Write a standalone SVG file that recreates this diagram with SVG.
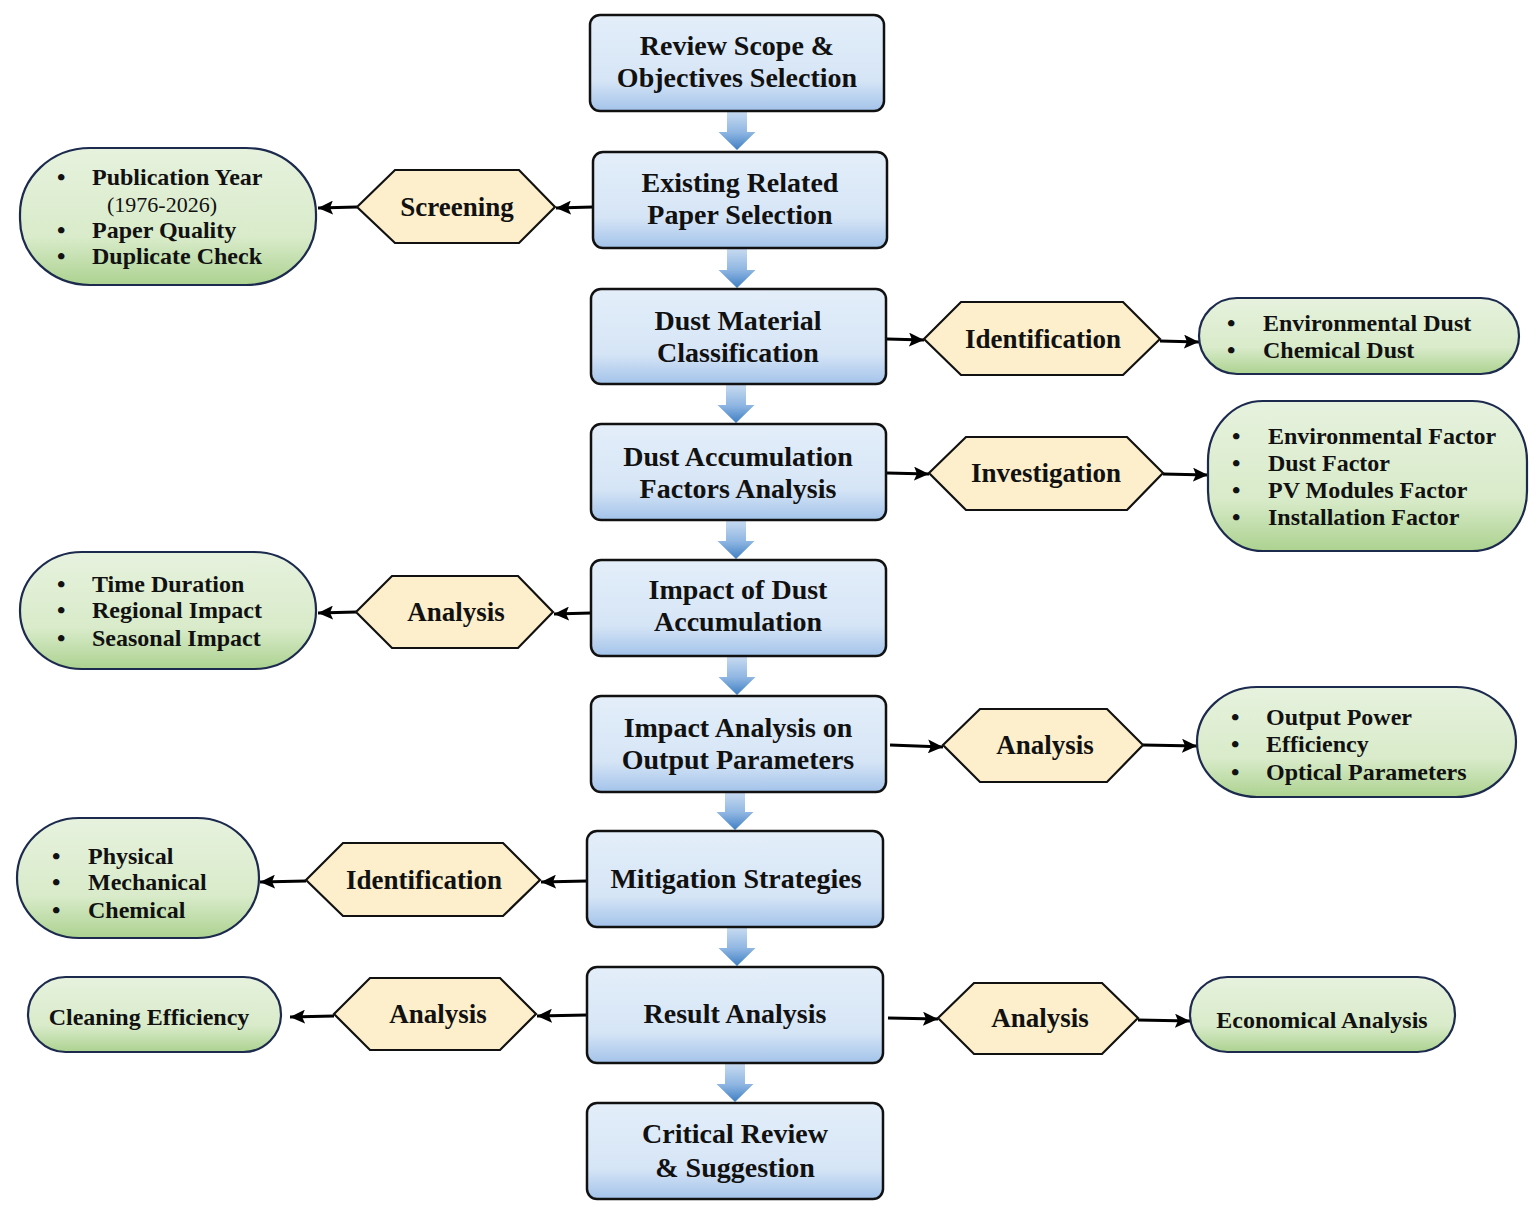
<svg xmlns="http://www.w3.org/2000/svg" width="1540" height="1216" viewBox="0 0 1540 1216">
<defs>
<linearGradient id="gBlue" x1="0" y1="0" x2="0" y2="1">
<stop offset="0" stop-color="#e3eef9"/>
<stop offset="0.68" stop-color="#d6e5f6"/>
<stop offset="1" stop-color="#a3c3ea"/>
</linearGradient>
<linearGradient id="gGreen" x1="0" y1="0" x2="0" y2="1">
<stop offset="0" stop-color="#e7f2de"/>
<stop offset="0.65" stop-color="#d9ebca"/>
<stop offset="1" stop-color="#acd290"/>
</linearGradient>
<linearGradient id="gArrow" x1="0" y1="0" x2="0" y2="1">
<stop offset="0" stop-color="#c9dcf1"/>
<stop offset="0.55" stop-color="#8fb6e2"/>
<stop offset="1" stop-color="#3f7fc4"/>
</linearGradient>
<marker id="ah" markerUnits="userSpaceOnUse" markerWidth="16" markerHeight="14" refX="15" refY="7" orient="auto">
<path d="M0,0 L15,7 L0,14 L3,7 z" fill="#000"/>
</marker>
<style>
.box{fill:url(#gBlue);stroke:#111;stroke-width:2.5}
.pill{fill:url(#gGreen);stroke:#1c2a4e;stroke-width:2.2}
.hex{fill:#fdefcb;stroke:#111;stroke-width:2.2}
.conn{stroke:#000;stroke-width:3.2;fill:none;marker-end:url(#ah)}
.down{fill:url(#gArrow);stroke:none}
text{font-family:"Liberation Serif","Times New Roman",serif;font-weight:bold;fill:#111}
.mt{font-size:28px;text-anchor:middle}
.ht{font-size:27px;text-anchor:middle}
.pt{font-size:24px}
.yr{font-size:22px;font-weight:normal}
</style>
</defs>

<g id="down-arrows">
<polygon class="down" points="727,111 747,111 747,132 755.5,132 737,150 718.5,132 727,132"/>
<polygon class="down" points="727,248 747,248 747,270 755.5,270 737,288 718.5,270 727,270"/>
<polygon class="down" points="726,384 746,384 746,405 754.5,405 736,423 717.5,405 726,405"/>
<polygon class="down" points="726,520 746,520 746,541 754.5,541 736,559 717.5,541 726,541"/>
<polygon class="down" points="727,656 747,656 747,677 755.5,677 737,695 718.5,677 727,677"/>
<polygon class="down" points="725,792 745,792 745,812 753.5,812 735,830 716.5,812 725,812"/>
<polygon class="down" points="727,927 747,927 747,948 755.5,948 737,966 718.5,948 727,948"/>
<polygon class="down" points="725,1063 745,1063 745,1084 753.5,1084 735,1102 716.5,1084 725,1084"/>
</g>

<g id="connectors">
<line class="conn" x1="593" y1="207" x2="556" y2="208"/>
<line class="conn" x1="357" y1="207" x2="318" y2="208"/>
<line class="conn" x1="887" y1="339" x2="924" y2="340"/>
<line class="conn" x1="1160" y1="341" x2="1199" y2="342"/>
<line class="conn" x1="887" y1="473" x2="929" y2="474"/>
<line class="conn" x1="1163" y1="474" x2="1208" y2="475"/>
<line class="conn" x1="591" y1="613" x2="554" y2="614"/>
<line class="conn" x1="356" y1="612" x2="318" y2="613"/>
<line class="conn" x1="890" y1="745" x2="943" y2="747"/>
<line class="conn" x1="1143" y1="745" x2="1197" y2="746"/>
<line class="conn" x1="587" y1="881" x2="541" y2="882"/>
<line class="conn" x1="306" y1="881" x2="260" y2="882"/>
<line class="conn" x1="587" y1="1015" x2="537" y2="1016"/>
<line class="conn" x1="334" y1="1016" x2="290" y2="1017"/>
<line class="conn" x1="888" y1="1018" x2="938" y2="1019"/>
<line class="conn" x1="1138" y1="1020" x2="1190" y2="1021"/>
</g>

<g id="n1"><rect class="box" x="590" y="15" width="294" height="96" rx="10"/>
<text class="mt" x="737" y="55">Review Scope &amp;</text><text class="mt" x="737" y="87">Objectives Selection</text></g>
<g id="n2"><rect class="box" x="593" y="152" width="294" height="96" rx="10"/>
<text class="mt" x="740" y="192">Existing Related</text><text class="mt" x="740" y="224">Paper Selection</text></g>
<g id="n3"><rect class="box" x="591" y="289" width="295" height="95" rx="10"/>
<text class="mt" x="738" y="330">Dust Material</text><text class="mt" x="738" y="362">Classification</text></g>
<g id="n4"><rect class="box" x="591" y="424" width="295" height="96" rx="10"/>
<text class="mt" x="738" y="466">Dust Accumulation</text><text class="mt" x="738" y="498">Factors Analysis</text></g>
<g id="n5"><rect class="box" x="591" y="560" width="295" height="96" rx="10"/>
<text class="mt" x="738" y="599">Impact of Dust</text><text class="mt" x="738" y="631">Accumulation</text></g>
<g id="n6"><rect class="box" x="591" y="696" width="295" height="96" rx="10"/>
<text class="mt" x="738" y="737">Impact Analysis on</text><text class="mt" x="738" y="769">Output Parameters</text></g>
<g id="n7"><rect class="box" x="587" y="831" width="296" height="96" rx="10"/>
<text class="mt" x="736" y="888">Mitigation Strategies</text></g>
<g id="n8"><rect class="box" x="587" y="967" width="296" height="96" rx="10"/>
<text class="mt" x="735" y="1023">Result Analysis</text></g>
<g id="n9"><rect class="box" x="587" y="1103" width="296" height="96" rx="10"/>
<text class="mt" x="735" y="1143">Critical Review</text><text class="mt" x="735" y="1177">&amp; Suggestion</text></g>

<g id="h-screening"><polygon class="hex" points="357,207 395,170 519,170 555,207 519,243 395,243"/>
<text class="ht" x="457" y="216">Screening</text></g>
<g id="h-identification-1"><polygon class="hex" points="924,339 961,302 1123,302 1160,339 1123,375 961,375"/>
<text class="ht" x="1043" y="348">Identification</text></g>
<g id="h-investigation"><polygon class="hex" points="929,473 966,437 1127,437 1163,473 1127,510 966,510"/>
<text class="ht" x="1046" y="482">Investigation</text></g>
<g id="h-analysis-1"><polygon class="hex" points="356,612 392,576 518,576 553,612 518,648 392,648"/>
<text class="ht" x="456" y="621">Analysis</text></g>
<g id="h-analysis-2"><polygon class="hex" points="943,745 980,709 1107,709 1143,745 1107,782 980,782"/>
<text class="ht" x="1045" y="754">Analysis</text></g>
<g id="h-identification-2"><polygon class="hex" points="306,880 343,843 503,843 540,880 503,916 343,916"/>
<text class="ht" x="424" y="889">Identification</text></g>
<g id="h-analysis-3"><polygon class="hex" points="334,1014 370,978 500,978 536,1014 500,1050 370,1050"/>
<text class="ht" x="438" y="1023">Analysis</text></g>
<g id="h-analysis-4"><polygon class="hex" points="938,1018 974,983 1102,983 1138,1018 1102,1054 974,1054"/>
<text class="ht" x="1040" y="1027">Analysis</text></g>

<g id="p-screening"><rect class="pill" x="20" y="148" width="296" height="137" rx="70" ry="66"/>
<text class="pt" x="57" y="185">•</text><text class="pt" x="92" y="185">Publication Year</text>
<text class="pt yr" x="107" y="212">(1976-2026)</text>
<text class="pt" x="57" y="238">•</text><text class="pt" x="92" y="238">Paper Quality</text>
<text class="pt" x="57" y="264">•</text><text class="pt" x="92" y="264">Duplicate Check</text></g>

<g id="p-dust-type"><rect class="pill" x="1199" y="298" width="320" height="76" rx="38" ry="38"/>
<text class="pt" x="1227" y="331">•</text><text class="pt" x="1263" y="331">Environmental Dust</text>
<text class="pt" x="1227" y="358">•</text><text class="pt" x="1263" y="358">Chemical Dust</text></g>

<g id="p-factors"><rect class="pill" x="1208" y="401" width="319" height="150" rx="55" ry="60"/>
<text class="pt" x="1232" y="444">•</text><text class="pt" x="1268" y="444">Environmental Factor</text>
<text class="pt" x="1232" y="471">•</text><text class="pt" x="1268" y="471">Dust Factor</text>
<text class="pt" x="1232" y="498">•</text><text class="pt" x="1268" y="498">PV Modules Factor</text>
<text class="pt" x="1232" y="525">•</text><text class="pt" x="1268" y="525">Installation Factor</text></g>

<g id="p-impact"><rect class="pill" x="20" y="552" width="296" height="117" rx="62" ry="58"/>
<text class="pt" x="57" y="592">•</text><text class="pt" x="92" y="592">Time Duration</text>
<text class="pt" x="57" y="618">•</text><text class="pt" x="92" y="618">Regional Impact</text>
<text class="pt" x="57" y="646">•</text><text class="pt" x="92" y="646">Seasonal Impact</text></g>

<g id="p-output"><rect class="pill" x="1197" y="687" width="319" height="110" rx="60" ry="55"/>
<text class="pt" x="1231" y="725">•</text><text class="pt" x="1266" y="725">Output Power</text>
<text class="pt" x="1231" y="752">•</text><text class="pt" x="1266" y="752">Efficiency</text>
<text class="pt" x="1231" y="780">•</text><text class="pt" x="1266" y="780">Optical Parameters</text></g>

<g id="p-mitigation"><rect class="pill" x="17" y="818" width="242" height="120" rx="62" ry="60"/>
<text class="pt" x="52" y="864">•</text><text class="pt" x="88" y="864">Physical</text>
<text class="pt" x="52" y="890">•</text><text class="pt" x="88" y="890">Mechanical</text>
<text class="pt" x="52" y="918">•</text><text class="pt" x="88" y="918">Chemical</text></g>

<g id="p-cleaning"><rect class="pill" x="28" y="977" width="253" height="75" rx="37.5" ry="37.5"/>
<text class="pt" x="149" y="1025" text-anchor="middle">Cleaning Efficiency</text></g>

<g id="p-economic"><rect class="pill" x="1190" y="977" width="265" height="75" rx="37.5" ry="37.5"/>
<text class="pt" x="1322" y="1028" text-anchor="middle">Economical Analysis</text></g>
</svg>
